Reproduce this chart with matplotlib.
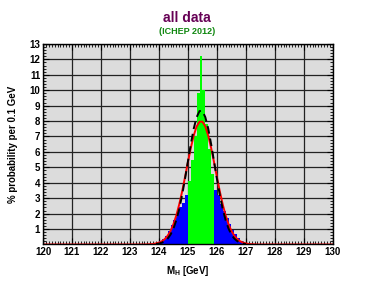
import matplotlib
matplotlib.use("Agg")
import matplotlib.pyplot as plt
from matplotlib.ticker import MultipleLocator

# ---- data ----
bin_left = [123.7, 123.8, 123.9, 124.0, 124.1, 124.2, 124.3, 124.4, 124.5, 124.6, 124.7, 124.8, 124.9,
            125.0, 125.1, 125.2, 125.3, 125.4, 125.5, 125.6, 125.7, 125.8,
            125.9, 126.0, 126.1, 126.2, 126.3, 126.4, 126.5, 126.6, 126.7, 126.8, 126.9, 127.0, 127.1]
bin_val = [0.03, 0.06, 0.12, 0.2, 0.35, 0.55, 0.85, 1.25, 1.6, 2.0, 2.4, 2.7, 3.2,
           4.1, 5.5, 7.0, 9.8, 12.2, 10.0, 7.8, 6.2, 4.6,
           3.5, 3.2, 2.6, 2.2, 1.7, 1.3, 0.95, 0.65, 0.4, 0.25, 0.12, 0.05, 0.02]
central_lo, central_hi = 125.0, 125.9

red_x = [120.0, 123.5, 123.6, 123.7, 123.8, 123.9, 124.0, 124.1, 124.2, 124.3, 124.4, 124.5, 124.6, 124.7,
         124.8, 124.9, 125.0, 125.1, 125.2, 125.3, 125.4, 125.5, 125.6, 125.7, 125.8, 125.9,
         126.0, 126.1, 126.2, 126.3, 126.4, 126.5, 126.6, 126.7, 126.8, 126.9, 127.0, 127.1,
         127.2, 127.3, 127.4, 130.0]
red_y = [0.0, 0.0, 0.01, 0.02, 0.03, 0.07, 0.12, 0.21, 0.35, 0.57, 0.88, 1.32, 1.89, 2.6,
         3.44, 4.37, 5.34, 6.26, 7.06, 7.65, 7.96, 7.96, 7.65, 7.06, 6.26, 5.34,
         4.37, 3.44, 2.6, 1.89, 1.32, 0.88, 0.57, 0.35, 0.21, 0.12, 0.07, 0.03,
         0.02, 0.01, 0.0, 0.0]

blk_x = [123.9, 124.0, 124.1, 124.2, 124.3, 124.4, 124.5, 124.6, 124.7, 124.8, 124.9, 125.0,
         125.1, 125.2, 125.3, 125.4, 125.5, 125.6, 125.7, 125.8, 125.9, 126.0, 126.1,
         126.2, 126.3, 126.4, 126.5, 126.6, 126.7, 126.8, 126.9, 127.0]
blk_y = [0.03, 0.06, 0.12, 0.22, 0.38, 0.64, 1.03, 1.58, 2.30, 3.21, 4.26, 5.39,
         6.51, 7.51, 8.25, 8.65, 8.65, 8.25, 7.51, 6.51, 5.39, 4.26, 3.21,
         2.30, 1.58, 1.03, 0.64, 0.38, 0.22, 0.12, 0.06, 0.03]

title = "all data"
subtitle = "(ICHEP 2012)"
xlabel = r"M$_{\mathbf{H}}$ [GeV]"
ylabel = "% probability per 0.1 GeV"

plt.rcParams['font.family'] = ['Liberation Sans', 'DejaVu Sans']
plt.rcParams['mathtext.fontset'] = 'custom'
plt.rcParams['mathtext.rm'] = 'Liberation Sans:bold'
plt.rcParams['mathtext.bf'] = 'Liberation Sans:bold'

fig = plt.figure(figsize=(3.74, 2.89), dpi=100)
ax = fig.add_axes([0.115, 0.154, 0.775, 0.694])
ax.set_facecolor('#dcdcdc')

colors = ['#00ff00' if (central_lo - 1e-6 <= b < central_hi - 1e-6) else '#0000ff' for b in bin_left]
ax.bar(bin_left, bin_val, width=0.1, align='edge', color=colors, linewidth=0, zorder=2)
ax.plot(red_x, red_y, color='#ff0000', lw=1.4, zorder=3)
ax.plot(blk_x, blk_y, color='black', lw=1.4, ls=(0, (4, 2.5)), zorder=4)

ax.set_xlim(120, 130)
ax.set_ylim(0, 13)
ax.xaxis.set_major_locator(MultipleLocator(1))
ax.xaxis.set_minor_locator(MultipleLocator(0.1))
ax.yaxis.set_major_locator(MultipleLocator(1))
ax.yaxis.set_minor_locator(MultipleLocator(0.2))
ax.grid(True, which='major', color='#222222', lw=0.9, zorder=1)
ax.set_axisbelow(True)
ax.tick_params(which='both', direction='in', top=True, right=True, color='black')
ax.tick_params(which='major', length=4, width=0.8, labelsize=7, pad=2)
ax.tick_params(which='minor', length=2.5, width=0.6)
for lab in ax.get_xticklabels() + ax.get_yticklabels():
    lab.set_fontweight('bold')
yt = ax.get_yticklabels()
ax.set_yticks(range(1, 14))
ax.set_yticklabels([str(i) for i in range(1, 14)], fontweight='bold', fontsize=7)
ax.set_xticks(range(120, 131))
ax.set_xticklabels([str(i) for i in range(120, 131)], fontweight='bold', fontsize=7)
for s in ax.spines.values():
    s.set_linewidth(1.0)
    s.set_color('black')
    s.set_zorder(5)

ax.set_xlabel(xlabel, fontsize=7, fontweight='bold', labelpad=5)
ax.set_ylabel(ylabel, fontsize=7, fontweight='bold', labelpad=8)

fig.text(0.5, 1 - 18/289, title, ha='center', va='center', fontsize=10, fontweight='bold', color='#660055')
fig.text(0.5, 1 - 31/289, subtitle, ha='center', va='center', fontsize=6.5, fontweight='bold', color='#118811')

fig.savefig('out.png', dpi=100)
